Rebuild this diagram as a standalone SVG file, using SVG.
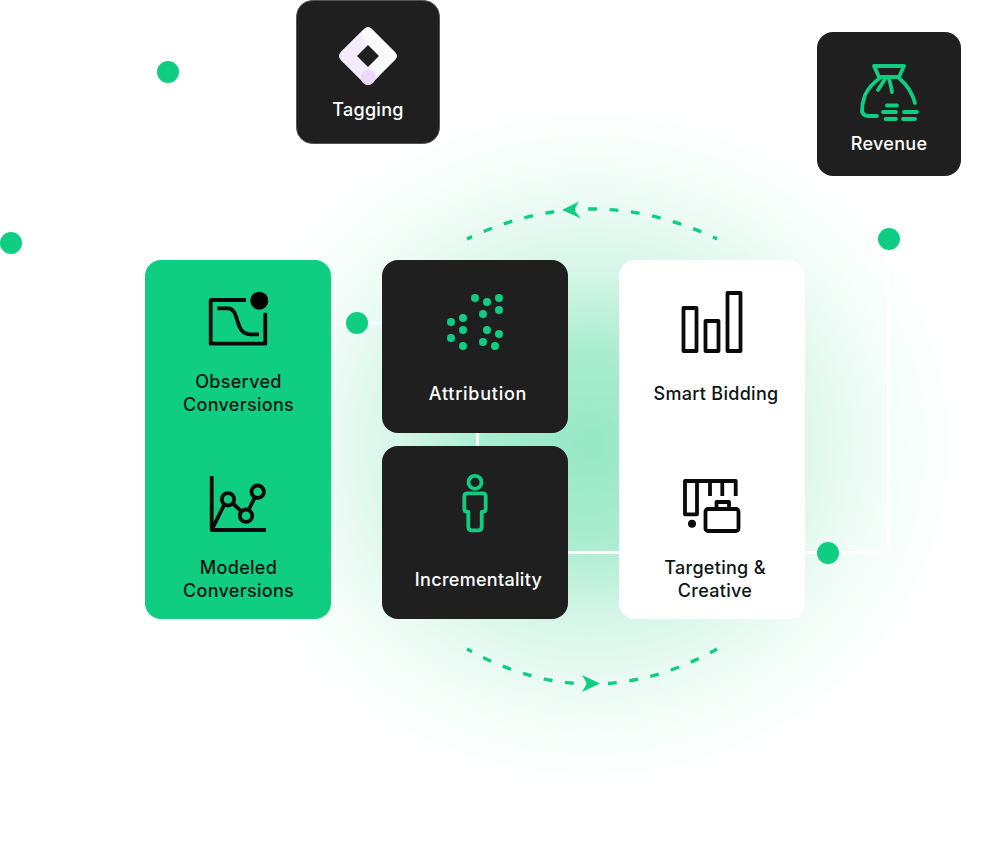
<svg xmlns="http://www.w3.org/2000/svg" width="1007" height="844" viewBox="0 0 1007 844">
<style>
.dark{fill:#1f1f1f}
.t{font-family:"Inter","Liberation Sans",sans-serif;font-size:18px;font-weight:450;text-anchor:middle;letter-spacing:.3px}
.tw{fill:#fff}.tk{fill:#0d1512}
.ik{fill:none;stroke:#0a0a0a;stroke-width:3.8;stroke-linejoin:round;stroke-linecap:butt}
.ig{fill:none;stroke:#0fce82;stroke-width:3.8;stroke-linejoin:round;stroke-linecap:round}
.dot{fill:#0fce82}
.wire{fill:none;stroke:#fff;stroke-width:3;opacity:.9}
.arc{fill:none;stroke:#0fce82;stroke-width:3.4;stroke-dasharray:8.8 12.7;stroke-dashoffset:3.300}
</style>
<defs>
<radialGradient id="glow" cx=".5" cy=".5" r=".5">
<stop offset="0" stop-color="#95e7c5"/>
<stop offset=".28" stop-color="#aaecd1"/>
<stop offset=".5" stop-color="#d4f5e7"/>
<stop offset=".72" stop-color="#ecfbf5"/>
<stop offset=".88" stop-color="#f8fefb"/>
<stop offset="1" stop-color="#fff"/>
</radialGradient>
</defs>
<rect width="1007" height="844" fill="#fff"/>
<ellipse cx="590" cy="445" rx="370" ry="340" fill="url(#glow)"/>
<g id="connectors">
<path class="wire" d="M331 323H382M477.500 433V446M568 552.500H619M805 552.500H888.500V239"/>
<path class="arc" d="M467 239Q592 179 717 239"/>
<path class="arc" d="M467 649Q592 719 717 649"/>
<path class="dot" d="M562 210L579 201.500L574 210L581 218.500Z"/>
<path class="dot" d="M600 683.500L582 675L587 683.500L582 692Z"/>
</g>
<g id="dots">
<circle class="dot" cx="168" cy="72" r="11"/>
<circle class="dot" cx="11" cy="243" r="11"/>
<circle class="dot" cx="357" cy="323" r="11"/>
<circle class="dot" cx="889" cy="239" r="11"/>
<circle class="dot" cx="828" cy="553" r="11"/>
</g>
<g id="tagging">
<rect class="dark" x="296.500" y=".5" width="143" height="143" rx="16" stroke="#555" stroke-width="1"/>
<path d="M368 27Q370 27 372 29L395 52Q399 56 395 60L372 83Q368 87 364 83L341 60Q337 56 341 52L364 29Q366 27 368 27Z" fill="#fcfaff"/>
<path d="M363 30L341 52Q337 56 341 60L364 83Q368 86 372 83L379 76L357 55L368 44L363 38Q360 34 363 30Z" fill="#f4ecfd"/>
<path d="M368 45L379 56L368 67L357 56Z" fill="#1f1f1f"/>
<circle cx="368" cy="77.500" r="7.500" fill="#ead9fa"/>
<text class="t tw" x="368" y="116">Tagging</text>
</g>
<g id="revenue">
<rect class="dark" x="817" y="32" width="144" height="144" rx="16"/>
<path class="ig" d="M874 66H904L899 77H879ZM880 78Q870 85 865 95Q862 103 862 112V110Q862 116 869 116H877M899 78Q911 88 915 103"/>
<path class="ig" d="M885 79L878 90M889 79Q891 85 892 92"/>
<path class="ig" stroke-width="3" d="M887 105.500H897M883 112H896M904 112H917M885.500 119H896M903 119H915"/>
<text class="t tw" x="889" y="150">Revenue</text>
</g>
<g id="conversions">
<rect x="145" y="260" width="186" height="359" rx="16" fill="#0fce82"/>
<path class="ik" d="M246 300H210.700V343.700H265.300V312.700"/>
<circle cx="259.300" cy="300.700" r="9" fill="#000"/>
<path class="ik" stroke-width="3" d="M217.300 308.300H228C240 308.300 234 334.300 250 334.300H259"/>
<text class="t tk" x="238.500" y="388">Observed</text>
<text class="t tk" x="238.500" y="411">Conversions</text>
<path class="ik" d="M211.700 476V530H266M211.700 530L224 505M232.500 503L241.500 511.500M248.500 510L255 497"/>
<circle class="ik" cx="228" cy="499.300" r="6.200"/>
<circle class="ik" cx="246" cy="515.700" r="6.200"/>
<circle class="ik" cx="257.700" cy="491.700" r="6.200"/>
<text class="t tk" x="238.500" y="574">Modeled</text>
<text class="t tk" x="238.500" y="597">Conversions</text>
</g>
<g id="attribution">
<rect class="dark" x="382" y="260" width="186" height="173" rx="16"/>
<g class="dot">
<circle cx="475" cy="298" r="4"/><circle cx="487" cy="302" r="4"/><circle cx="499" cy="298" r="4"/><circle cx="499" cy="310" r="4"/><circle cx="483" cy="314" r="4"/><circle cx="463" cy="318" r="4"/><circle cx="451" cy="322" r="4"/><circle cx="463" cy="330" r="4"/><circle cx="451" cy="338" r="4"/><circle cx="463" cy="346" r="4"/><circle cx="487" cy="330" r="4"/><circle cx="499" cy="334" r="4"/><circle cx="483" cy="342" r="4"/><circle cx="495" cy="346" r="4"/>
</g>
<text class="t tw" x="478" y="400" style="letter-spacing:.75px">Attribution</text>
</g>
<g id="incrementality">
<rect class="dark" x="382" y="446" width="186" height="173" rx="16"/>
<circle class="ig" cx="475" cy="482.300" r="6.500"/>
<path class="ig" d="M467.500 493.300H482.500Q485.700 493.300 485.700 496.500V509Q485.700 512 481.700 512V527Q481.700 530.300 478.500 530.300H471.500Q468.300 530.300 468.300 527V512Q464.300 512 464.300 509V496.500Q464.300 493.300 467.500 493.300Z"/>
<text class="t tw" x="478.500" y="586">Incrementality</text>
</g>
<g id="activation">
<rect x="619" y="260" width="186" height="359" rx="16" fill="#fff"/>
<rect class="ik" x="683.500" y="308" width="13" height="43"/>
<rect class="ik" x="705.500" y="321" width="13" height="30"/>
<rect class="ik" x="727.500" y="293" width="13" height="58"/>
<text class="t tk" x="716" y="400">Smart Bidding</text>
<path class="ik" d="M735.700 496V481H685V514.300H697V481M710 481V496M722.300 481V496"/>
<circle cx="692" cy="523.700" r="4" fill="#0a0a0a"/>
<rect class="ik" x="705.500" y="509" width="33" height="22" rx="2.500"/>
<path class="ik" d="M716.500 509V502H729V509"/>
<text class="t tk" x="715" y="574">Targeting &amp;</text>
<text class="t tk" x="715" y="597">Creative</text>
</g>
</svg>
